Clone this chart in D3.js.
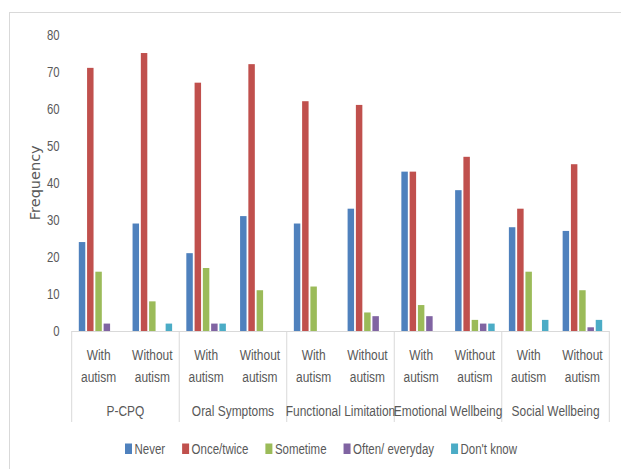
<!DOCTYPE html>
<html>
<head>
<meta charset="utf-8">
<script src="https://cdn.jsdelivr.net/npm/d3@7"></script>
<style>
  html, body { margin: 0; padding: 0; background: #fff; }
  svg { display: block; }
  text { font-family: "Liberation Sans", Arial, sans-serif; fill: #595959; }
</style>
</head>
<body>
<svg id="chart" width="621" height="469"></svg>
<script>
// ---- data ----
const groups = ["P-CPQ", "Oral Symptoms", "Functional Limitation", "Emotional Wellbeing", "Social Wellbeing"];
const subgroups = ["With autism", "Without autism"];
const seriesNames = ["Never", "Once/twice", "Sometime", "Often/ everyday", "Don't know"];
const never     = [24, 29, 21, 31, 29, 33, 43, 38, 28, 27];
const onceTwice = [71, 75, 67, 72, 62, 61, 43, 47, 33, 45];
const sometime  = [16, 8, 17, 11, 12, 5, 7, 3, 16, 11];
const often     = [2, 0, 2, 0, 0, 4, 4, 2, 0, 1];
const dontKnow  = [0, 2, 2, 0, 0, 0, 0, 2, 3, 3];
const yTicks = [0, 10, 20, 30, 40, 50, 60, 70, 80];
const yTitle = "Frequency";

(function () {
// ---- styles ----
const colors = ["#4F81BD", "#C0504D", "#9BBB59", "#8064A2", "#4BACC6"];
const SX = 0.78;      // horizontal condensation of the Calibri-like axis labels
const SXL = 0.82;     // legend condensation
const seriesValues = [never, onceTwice, sometime, often, dontKnow];

const clusters = [];
groups.forEach((g, gi) => subgroups.forEach((s, si) => clusters.push({ g, s, idx: gi * 2 + si })));

const svg = d3.select("#chart");

// chart border (extends past the viewport on the right / bottom)
svg.append("rect").attr("x", 9.5).attr("y", 12.5).attr("width", 700).attr("height", 600)
  .attr("fill", "none").attr("stroke", "#d9d9d9").attr("stroke-width", 1);

const pLeft = 71.7, pRight = 609.3, pTop = 34.5, pBottom = 331;

const x0 = d3.scaleBand().domain(clusters.map(c => c.idx)).range([pLeft, pRight]).padding(0);
const x1 = d3.scaleBand().domain(d3.range(seriesNames.length)).range([0, x0.bandwidth()])
  .paddingInner(0).paddingOuter(0.75);
const y = d3.scaleLinear().domain([0, 80]).range([pBottom, pTop]);

// bars
const barInset = 0.9;
seriesValues.forEach((vals, si) => {
  svg.append("g").selectAll("rect")
    .data(vals.map((v, i) => ({ v, i })).filter(d => d.v > 0))
    .join("rect")
    .attr("x", d => x0(d.i) + x1(si) + barInset)
    .attr("width", x1.bandwidth() - 2 * barInset)
    .attr("y", d => y(d.v))
    .attr("height", d => y(0) - y(d.v))
    .attr("fill", colors[si]);
});

// y tick labels (no axis line)
const yAxis = d3.axisLeft(y).tickValues(yTicks).tickSize(0).tickPadding(0);
const yg = svg.append("g").attr("transform", `translate(59.5,0)`).call(yAxis);
yg.select(".domain").remove();
yg.selectAll(".tick text")
  .attr("x", 0).attr("dy", "0.35em")
  .attr("text-anchor", "end")
  .attr("transform", `scale(0.81,1)`)
  .style("font-size", "14px").style("fill", "#595959")
  .style("font-family", "'Liberation Sans', Arial, sans-serif");

// y title
svg.append("text")
  .attr("transform", `translate(39.5,${(pTop + pBottom) / 2}) rotate(-90)`)
  .attr("text-anchor", "middle")
  .style("font-size", "14.5px")
  .style("font-family", "'DejaVu Sans', sans-serif")
  .text(yTitle);

// x axis line
const lineColor = "#d9d9d9";
svg.append("line").attr("x1", pLeft).attr("x2", pRight).attr("y1", pBottom + 0.5).attr("y2", pBottom + 0.5)
  .attr("stroke", lineColor).attr("stroke-width", 1);

// group separators
const sepBottom = 422;
d3.range(groups.length + 1).forEach(k => {
  const xp = k < groups.length ? x0(k * 2) : pRight;
  svg.append("line").attr("x1", xp).attr("x2", xp).attr("y1", pBottom).attr("y2", sepBottom)
    .attr("stroke", lineColor).attr("stroke-width", 1);
});

function condText(xp, yp, str, size) {
  return svg.append("text")
    .attr("transform", `translate(${xp},${yp}) scale(${SX},1)`)
    .attr("text-anchor", "middle")
    .attr("dy", "0.35em")
    .style("font-size", size + "px")
    .text(str);
}

// subgroup labels
clusters.forEach(c => {
  const cx = x0(c.idx) + x0.bandwidth() / 2;
  const parts = c.s.split(" ");
  condText(cx, 355, parts[0], 15.3);
  condText(cx, 376.7, parts[1], 15.3);
});

// group labels
groups.forEach((g, gi) => {
  const cx = x0(gi * 2) + x0.bandwidth();
  condText(cx, 411, g, 15.3);
});

// legend
let lx = 125;
const ly = 448.7;
seriesNames.forEach((name, i) => {
  svg.append("rect").attr("x", lx).attr("y", ly - 5.2).attr("width", 7).attr("height", 10.5)
    .attr("fill", colors[i]);
  const t = svg.append("text")
    .attr("transform", `translate(${lx + 9.5},${ly}) scale(${SXL},1)`)
    .attr("dy", "0.35em")
    .style("font-size", "14px")
    .text(name);
  const w = t.node().getComputedTextLength() * SXL;
  lx = lx + 9.5 + w + 17;
});
})();
</script>
</body>
</html>
